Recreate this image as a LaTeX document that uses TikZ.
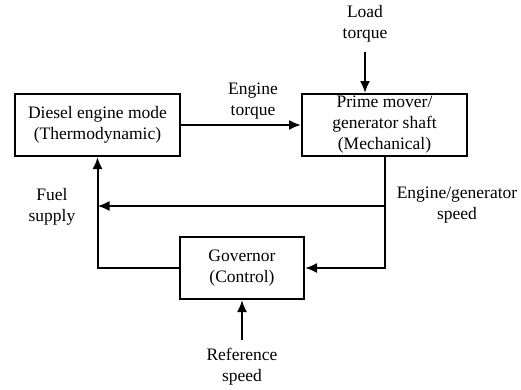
\documentclass[tikz,border=0pt]{standalone}
\usepackage{fontspec}
\setmainfont{Liberation Serif}
\newfontfamily\diagfont{Liberation Serif}
\usetikzlibrary{arrows.meta}
\tikzstyle{blockbox}=[draw, line width=2, minimum height=62, align=center, inner sep=0]
\tikzstyle{arrowwire}=[line width=2, -{Latex[length=12, width=10]}]
\tikzstyle{label}=[align=center, inner sep=0]
\begin{document}
\begin{tikzpicture}[x=1pt, y=-1pt, font=\diagfont\fontsize{17.5}{21}\selectfont]
  \useasboundingbox (0,0) rectangle (521,389);
  \node[blockbox, minimum width=165] (B1) at (97.5,125) {Diesel engine mode\\(Thermodynamic)};
  \node[blockbox, minimum width=165] (B2) at (384.5,125) {Prime mover/\\generator shaft\\(Mechanical)};
  \node[blockbox, minimum width=124] (B3) at (242,268) {Governor\\(Control)};
  \coordinate (C1) at (365,52);
  \coordinate (C2) at (384.5,206);
  \coordinate (C3) at (384.5,268);
  \coordinate (C4) at (97.5,206);
  \coordinate (C5) at (97.5,268);
  \coordinate (C6) at (242,340);
  \draw[arrowwire] (B1) -- (B2);
  \draw[arrowwire] (C1) -- (C1 |- B2.north);
  \draw[arrowwire] (B2.south) -- (C3) -- (B3.east);
  \draw[arrowwire] (C2) -- (C4);
  \draw[arrowwire] (B3.west) -- (C5) -- (B1.south);
  \draw[arrowwire] (C6) -- (B3.south);
  \node[label] (L1) at (253,101) {Engine\\torque};
  \node[label] (L2) at (365,24) {Load\\torque};
  \node[label] (L3) at (52,207) {Fuel\\supply};
  \node[label] (L4) at (457,205) {Engine/generator\\speed};
  \node[label] (L5) at (242,367) {Reference\\speed};
\end{tikzpicture}
\end{document}
